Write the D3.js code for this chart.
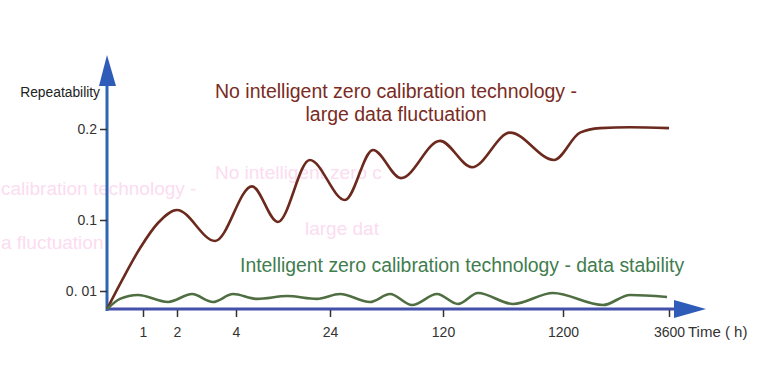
<!DOCTYPE html>
<html><head><meta charset="utf-8">
<script src="https://cdn.jsdelivr.net/npm/d3@7"></script>
<style>html,body{margin:0;padding:0;background:#fff;}svg{display:block;font-family:"Liberation Sans",Arial,sans-serif;}</style>
</head><body>
<svg id="chart" width="768" height="376"></svg>
<script>
// ---- data ----
const xTickValues = [1, 2, 4, 24, 120, 1200, 3600];
const xTickLabels = ["1", "2", "4", "24", "120", "1200", "3600"];
const yTickValues = [0.01, 0.1, 0.2];
const yTickLabels = ["0. 01", "0.1", "0.2"];
// series: time (h) and repeatability
const noCalTime = [0, 0.42, 0.92, 1.44, 2, 3.29, 7.4, 12.9, 19.7, 36.7, 60.5, 84.3, 117.5, 381, 723, 1119, 1585, 2038, 2717, 3600];
const noCalValue = [0, 0.0239, 0.0645, 0.0962, 0.111, 0.0734, 0.137, 0.0975, 0.166, 0.122, 0.177, 0.146, 0.187, 0.158, 0.196, 0.166, 0.196, 0.201, 0.202, 0.201];
const calTime = [0, 0.36, 0.86, 1.74, 2.51, 3.22, 3.9, 8.5, 14.9, 21.2, 32.5, 58, 75, 93.7, 114.9, 255, 435, 750, 1110, 2106, 2717, 3555];
const calValue = [0, 0.0056, 0.0078, 0.0039, 0.0083, 0.0039, 0.0083, 0.0056, 0.0072, 0.0056, 0.0083, 0.0039, 0.0083, 0.0022, 0.0083, 0.0028, 0.0089, 0.0028, 0.0089, 0.0022, 0.0078, 0.0067];

const svg = d3.select("#chart");

// piecewise (non-uniform) axes as in the original drawing
const x = d3.scaleLinear().domain([0, 1, 2, 4, 24, 120, 1200, 3600]).range([107, 143, 177, 236, 330, 443, 563, 669]);
const y = d3.scaleLinear().domain([0, 0.01, 0.1, 0.2]).range([309, 291, 220, 129]);

// faint ghost texts (background artifacts)
const ghost = svg.append("g").attr("fill", "#fbdcf1").attr("font-size", 19);
ghost.append("text").attr("x", 1).attr("y", 195).text("calibration technology -");
ghost.append("text").attr("x", 1).attr("y", 249).text("a fluctuation");
ghost.append("text").attr("x", 215).attr("y", 179).text("No intelligent zero c");
ghost.append("text").attr("x", 305).attr("y", 235).text("large dat");

// x axis line + arrow
svg.append("line").attr("x1", x(0)).attr("x2", 680).attr("y1", y(0)).attr("y2", y(0))
  .attr("stroke", "#4550aa").attr("stroke-width", 3);
svg.append("path").attr("d", "M674,300 L706,309 L674,318 Z").attr("fill", "#2f5cb8");
// y axis line + arrow
svg.append("line").attr("x1", x(0)).attr("x2", x(0)).attr("y1", y(0) + 2).attr("y2", 80)
  .attr("stroke", "#2e66b4").attr("stroke-width", 3);
svg.append("path").attr("d", "M99,86 L107,55 L116,86 Z").attr("fill", "#2f5cb8");

// axes ticks
const xAxis = d3.axisBottom(x).tickValues(xTickValues)
  .tickFormat((d, i) => xTickLabels[i]).tickSizeInner(7).tickSizeOuter(0).tickPadding(10);
const gx = svg.append("g").attr("transform", `translate(0,${y(0) + 1})`).call(xAxis);
gx.select(".domain").remove();
gx.selectAll(".tick line").attr("stroke", "#333").attr("stroke-width", 1.5);
gx.selectAll(".tick text").attr("fill", "#333").attr("font-size", 14).attr("font-family", "Liberation Sans, Arial, sans-serif");

const yAxis = d3.axisLeft(y).tickValues(yTickValues)
  .tickFormat((d, i) => yTickLabels[i]).tickSizeInner(7).tickSizeOuter(0).tickPadding(3);
const gy = svg.append("g").attr("transform", `translate(${x(0)},0)`).call(yAxis);
gy.select(".domain").remove();
gy.selectAll(".tick line").attr("stroke", "#333").attr("stroke-width", 1.5);
gy.selectAll(".tick text").attr("fill", "#333").attr("font-size", 14).attr("font-family", "Liberation Sans, Arial, sans-serif");

// axis titles
svg.append("text").attr("x", 100).attr("y", 97).attr("text-anchor", "end")
  .attr("font-size", 13.8).attr("fill", "#222").text("Repeatability");
svg.append("text").attr("x", 688).attr("y", 337)
  .attr("font-size", 15).attr("fill", "#333").text("Time ( h)");

// curves
const line = d3.line().x(d => x(d[0])).y(d => y(d[1])).curve(d3.curveMonotoneX);
svg.append("path").datum(noCalTime.map((t, i) => [t, noCalValue[i]]))
  .attr("d", line).attr("fill", "none").attr("stroke", "#6b2a1d").attr("stroke-width", 2.6);
svg.append("path").datum(calTime.map((t, i) => [t, calValue[i]]))
  .attr("d", line).attr("fill", "none").attr("stroke", "#4f6e42").attr("stroke-width", 2.6);

// annotations
svg.append("text").attr("x", 396).attr("y", 98).attr("text-anchor", "middle")
  .attr("font-size", 19.5).attr("fill", "#7a2b24").text("No intelligent zero calibration technology -");
svg.append("text").attr("x", 396).attr("y", 121).attr("text-anchor", "middle")
  .attr("font-size", 19.5).attr("fill", "#7a2b24").text("large data fluctuation");
svg.append("text").attr("x", 240).attr("y", 272)
  .attr("font-size", 19.4).attr("fill", "#3f7d4e").text("Intelligent zero calibration technology - data stability");
</script>
</body></html>
